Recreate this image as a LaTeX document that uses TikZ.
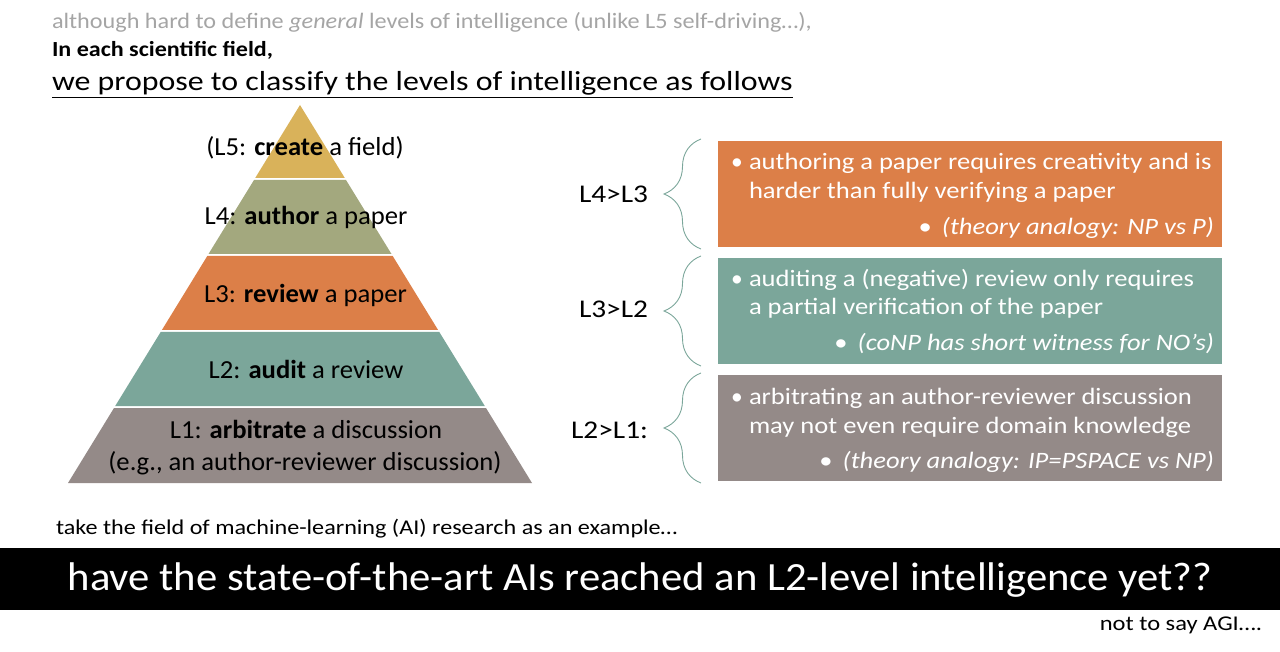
\documentclass[tikz,border=0pt]{standalone}
\usepackage{fontspec}
\setmainfont{Carlito}
\usetikzlibrary{decorations.pathreplacing}
\definecolor{cgold}{RGB}{217,178,90}
\definecolor{colive}{RGB}{163,168,126}
\definecolor{corange}{RGB}{220,127,72}
\definecolor{cteal}{RGB}{123,166,154}
\definecolor{cgray}{RGB}{148,138,136}
\definecolor{clight}{RGB}{165,165,165}
\newcommand{\fs}[1]{\fontsize{#1}{#1}\selectfont}
\newcommand{\sx}[2]{\scalebox{#1}[1]{#2}}
\tikzset{
  txt/.style={inner sep=0pt, outer sep=0pt, text=black},
  boxtxt/.style={txt, text=white, font=\fs{23.5}},
  lvl/.style={txt, font=\fs{26}, anchor=base},
  cmp/.style={txt, font=\fs{25.5}, anchor=base east},
  bracestyle/.style={draw=cteal, line width=0.9pt, decorate, decoration={brace, amplitude=37pt}},
}
\newcommand{\bs}[1]{\sx{1.13}{#1}}
\newcommand{\ps}[1]{\sx{1.025}{#1}}
\begin{document}
\begin{tikzpicture}[x=1pt,y=-1pt]
\useasboundingbox (0,0) rectangle (1280,652);
% header texts
\node[txt, anchor=base west, text=clight, font=\fs{22}] (t1) at (52,29) {\sx{1.10}{although hard to define \textit{general} levels of intelligence (unlike L5 self-driving…),}};
\node[txt, anchor=base west, font=\fs{21.5}\bfseries] (t2) at (52,57) {\sx{1.12}{In each scientific field,}};
\node[txt, anchor=base west, font=\fs{27.5}] (t3) at (52,91) {\sx{1.16}{we propose to classify the levels of intelligence as follows}};
\draw[line width=1.6pt] ([yshift=-6.5pt]t3.base west) -- ([yshift=-6.5pt]t3.base east);
% pyramid
\fill[cgold]   (300,105) -- (344.8,178) -- (255.2,178) -- cycle;
\fill[colive]  (254.0,180) -- (346.0,180) -- (391.5,254) -- (208.5,254) -- cycle;
\fill[corange] (207.3,256) -- (392.7,256) -- (438.1,330) -- (161.9,330) -- cycle;
\fill[cteal]   (160.7,332) -- (439.3,332) -- (484.8,406) -- (115.2,406) -- cycle;
\fill[cgray]   (114.0,408) -- (486.0,408) -- (532,483) -- (68,483) -- cycle;
\node[lvl] (p5) at (305,156) {\ps{(L5: \textbf{create} a field)}};
\node[lvl] (p4) at (306,225) {\ps{L4: \textbf{author} a paper}};
\node[lvl] (p3) at (305.5,303) {\ps{L3: \textbf{review} a paper}};
\node[lvl] (p2) at (306,378) {\ps{L2: \textbf{audit} a review}};
\node[lvl] (p1a) at (306,438) {\ps{L1: \textbf{arbitrate} a discussion}};
\node[lvl] (p1b) at (305,470) {\ps{(e.g., an author-reviewer discussion)}};
% boxes
\fill[corange] (718,141) rectangle (1222,247);
\fill[cteal]   (718,258) rectangle (1222,364);
\fill[cgray]   (718,375) rectangle (1222,481);
% braces
\coordinate (br1t) at (701,139); \coordinate (br1b) at (701,249);
\coordinate (br2t) at (701,256); \coordinate (br2b) at (701,366);
\coordinate (br3t) at (701,373); \coordinate (br3b) at (701,483);
\draw[bracestyle] (br1b) -- (br1t);
\draw[bracestyle] (br2b) -- (br2t);
\draw[bracestyle] (br3b) -- (br3t);
\node[cmp] (c1) at (648,203) {\sx{1.15}{L4>L3}};
\node[cmp] (c2) at (648,318) {\sx{1.15}{L3>L2}};
\node[cmp] (c3) at (648,438) {\sx{1.15}{L2>L1:}};
% box texts
\node[boxtxt, anchor=base west] (a1) at (731,170) {•};
\node[boxtxt, anchor=base west] (a2) at (749,170) {\bs{authoring a paper requires creativity and is}};
\node[boxtxt, anchor=base west] (a3) at (749,199) {\bs{harder than fully verifying a paper}};
\node[boxtxt, anchor=base east] (a4) at (1214,235) {\bs{•\hspace{9pt}\textit{(theory analogy: NP vs P)}}};
\node[boxtxt, anchor=base west] (d1) at (731,287) {•};
\node[boxtxt, anchor=base west] (d2) at (749,287) {\bs{auditing a (negative) review only requires}};
\node[boxtxt, anchor=base west] (d3) at (749,315) {\bs{a partial verification of the paper}};
\node[boxtxt, anchor=base east] (d4) at (1214,351) {\bs{•\hspace{9pt}\textit{(coNP has short witness for NO’s)}}};
\node[boxtxt, anchor=base west] (e1) at (731,404) {•};
\node[boxtxt, anchor=base west] (e2) at (749,404) {\bs{arbitrating an author-reviewer discussion}};
\node[boxtxt, anchor=base west] (e3) at (749,433) {\bs{may not even require domain knowledge}};
\node[boxtxt, anchor=base east] (e4) at (1214,468) {\bs{•\hspace{9pt}\textit{(theory analogy: IP=PSPACE vs NP)}}};
% bottom
\node[txt, anchor=base west, font=\fs{21}] (ex) at (56,534) {\sx{1.15}{take the field of machine-learning (AI) research as an example…}};
\fill[black] (0,548) rectangle (1280,610);
\node[txt, text=white, font=\fs{40}] (q) at (640,580) {\sx{1.067}{have the state-of-the-art AIs reached an L2-level intelligence yet??}};
\node[txt, anchor=base east, font=\fs{21}] (agi) at (1262,630) {\sx{1.167}{not to say AGI….}};
\end{tikzpicture}
\end{document}
